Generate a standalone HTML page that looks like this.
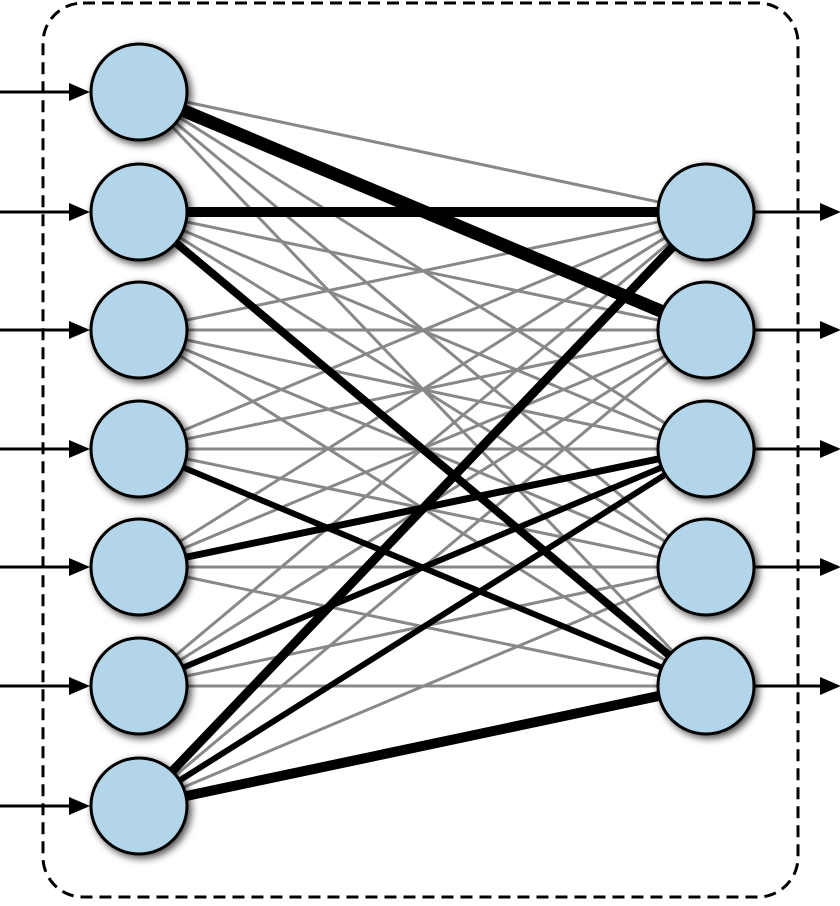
<!DOCTYPE html>
<html><head><style>html,body{margin:0;padding:0;background:#fff}</style></head><body>
<svg width="840" height="901" viewBox="0 0 840 901" xmlns="http://www.w3.org/2000/svg">
<defs>
<filter id="sh" x="-30%" y="-30%" width="160%" height="160%"><feGaussianBlur in="SourceAlpha" stdDeviation="4"/><feOffset dx="3" dy="3"/><feComponentTransfer><feFuncA type="linear" slope="0.7"/></feComponentTransfer><feMerge><feMergeNode/><feMergeNode in="SourceGraphic"/></feMerge></filter>
<marker id="ar" markerWidth="7" markerHeight="6" refX="6" refY="3" orient="auto" markerUnits="strokeWidth"><path d="M0,0 L7,3 L0,6 z" fill="#000"/></marker>
</defs>
<rect x="43" y="3" width="755" height="894" rx="40" fill="none" stroke="#000" stroke-width="3" stroke-dasharray="12 7"/>
<g stroke="#000" stroke-width="3" marker-end="url(#ar)">
<line x1="0" y1="92" x2="87" y2="92"/><line x1="0" y1="212" x2="87" y2="212"/><line x1="0" y1="330" x2="87" y2="330"/><line x1="0" y1="449" x2="87" y2="449"/><line x1="0" y1="567" x2="87" y2="567"/><line x1="0" y1="686" x2="87" y2="686"/><line x1="0" y1="806" x2="87" y2="806"/>
<line x1="754" y1="212" x2="838" y2="212"/><line x1="754" y1="330" x2="838" y2="330"/><line x1="754" y1="449" x2="838" y2="449"/><line x1="754" y1="567" x2="838" y2="567"/><line x1="754" y1="686" x2="838" y2="686"/>
</g>
<g id="gray" stroke="#888" stroke-width="3"></g>
<g stroke="#000">
<line x1="139" y1="92" x2="706" y2="330" stroke-width="13"/>
<line x1="139" y1="212" x2="706" y2="212" stroke-width="10"/>
<line x1="139" y1="212" x2="706" y2="686" stroke-width="8"/>
<line x1="139" y1="449" x2="706" y2="686" stroke-width="6"/>
<line x1="139" y1="567" x2="706" y2="449" stroke-width="7"/>
<line x1="139" y1="686" x2="706" y2="449" stroke-width="6"/>
<line x1="139" y1="806" x2="706" y2="212" stroke-width="9"/>
<line x1="139" y1="806" x2="706" y2="449" stroke-width="6"/>
<line x1="139" y1="806" x2="706" y2="686" stroke-width="10"/>
</g>
<g id="nodes" fill="#b3d5ea" stroke="#000" stroke-width="3" filter="url(#sh)">
<circle cx="139" cy="92" r="48"/><circle cx="139" cy="212" r="48"/><circle cx="139" cy="330" r="48"/><circle cx="139" cy="449" r="48"/><circle cx="139" cy="567" r="48"/><circle cx="139" cy="686" r="48"/><circle cx="139" cy="806" r="48"/>
<circle cx="706" cy="212" r="48"/><circle cx="706" cy="330" r="48"/><circle cx="706" cy="449" r="48"/><circle cx="706" cy="567" r="48"/><circle cx="706" cy="686" r="48"/>
</g>
</svg>
<script>
var g=document.getElementById('gray'),L=[92,212,330,449,567,686,806],R=[212,330,449,567,686];
L.forEach(function(a){R.forEach(function(b){var l=document.createElementNS('http://www.w3.org/2000/svg','line');l.setAttribute('x1',139);l.setAttribute('y1',a);l.setAttribute('x2',706);l.setAttribute('y2',b);g.appendChild(l);});});
</script>
</body></html>
